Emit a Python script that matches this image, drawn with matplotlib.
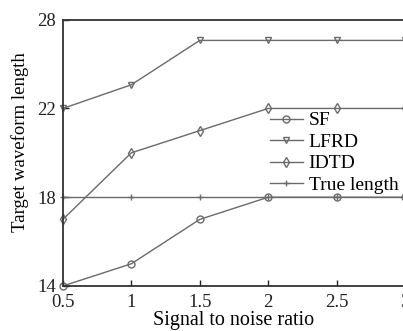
import matplotlib
matplotlib.use("Agg")
import matplotlib.pyplot as plt
import numpy as np

# Data
snr = [0.5, 1, 1.5, 2, 2.5, 3]
sf = [14, 15, 17, 18, 18, 18]
lfrd = [22, 23.6, 26.6, 26.6, 26.6, 26.6]
idtd = [17, 20, 21, 22, 22, 22]
true_len = [18, 18, 18, 18, 18, 18]
yticks = [14, 18, 22, 28]
xticks = [0.5, 1, 1.5, 2, 2.5, 3]

plt.rcParams['font.family'] = 'Liberation Serif'

line_color = '#6a6a6a'


# axis has equal spacing between 14,18,22,28 -> compress the top segment
def fwd(y):
    y = np.asarray(y, dtype=float)
    return np.where(y <= 22, y, 22 + (y - 22) * 4 / 6)


def inv(t):
    t = np.asarray(t, dtype=float)
    return np.where(t <= 22, t, 22 + (t - 22) * 6 / 4)


fig = plt.figure(figsize=(4.03, 3.31), dpi=100)
ax = fig.add_axes([0.156, 0.136, 0.849, 0.8045])
ax.set_yscale('function', functions=(fwd, inv))

kw = dict(color=line_color, lw=1.0, markersize=5, markerfacecolor='none',
          markeredgecolor=line_color, markeredgewidth=1.0, clip_on=False)
ax.plot(snr, sf, marker='o', label='SF', **kw)
ax.plot(snr, lfrd, marker='v', label='LFRD', **kw)
ax.plot(snr, idtd, marker='d', label='IDTD', **kw)
ax.plot(snr, true_len, marker='+', label='True length', **kw)

ax.set_xlim(0.5, 3)
ax.set_ylim(14, 28)
ax.set_xticks(xticks)
ax.set_xticklabels(['0.5', '1', '1.5', '2', '2.5', '3'])
ax.set_yticks(yticks)
ax.minorticks_off()
ax.tick_params(direction='in', length=4, width=1, labelsize=13.5, colors='#222222')
ax.tick_params(axis='x', pad=6)
ax.tick_params(axis='y', pad=5)

for s in ax.spines.values():
    s.set_linewidth(1.3)
    s.set_color('#333333')

ax.set_xlabel('Signal to noise ratio', fontsize=14.5, labelpad=0)
ax.set_ylabel('Target waveform length', fontsize=13.5)
ax.yaxis.set_label_coords(-0.1, 0.54)

ax.legend(loc='upper left', bbox_to_anchor=(0.565, 0.705), frameon=False,
          fontsize=14, handlelength=1.7, handletextpad=0.3, labelspacing=0.2,
          borderpad=0.2)

plt.savefig('out.png', dpi=100)
